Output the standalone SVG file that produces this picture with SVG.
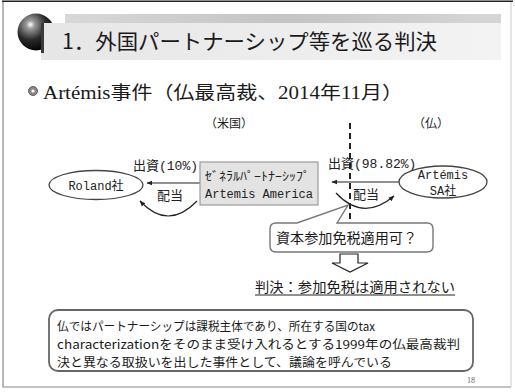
<svg xmlns="http://www.w3.org/2000/svg" width="515" height="392" viewBox="0 0 515 392">
<defs>
<radialGradient id="sph" cx="0.35" cy="0.3" r="0.75">
<stop offset="0" stop-color="#ffffff"/>
<stop offset="0.15" stop-color="#9a9a9a"/>
<stop offset="0.55" stop-color="#2a2a2a"/>
<stop offset="1" stop-color="#000000"/>
</radialGradient>
<linearGradient id="band" x1="0" y1="0" x2="1" y2="0">
<stop offset="0" stop-color="#d8d8d8"/>
<stop offset="0.5" stop-color="#c4c4c4"/>
<stop offset="1" stop-color="#d6d6d6"/>
</linearGradient>
<linearGradient id="panel" x1="0" y1="0" x2="1" y2="0">
<stop offset="0" stop-color="#e6e6e6"/>
<stop offset="1" stop-color="#f3f3f3"/>
</linearGradient>
<marker id="ah" viewBox="0 0 10 10" refX="9" refY="5" markerWidth="5" markerHeight="5" orient="auto-start-reverse">
<path d="M0,1 L10,5 L0,9 z" fill="#222"/>
</marker>
<style>
.lbl{font-family:"Liberation Mono","Noto Sans CJK JP",monospace;font-size:13px;fill:#222}
.mono{font-family:"Liberation Mono","Noto Sans CJK JP",monospace;font-size:12px;fill:#222}
.jp{font-family:"Noto Sans CJK JP",sans-serif;fill:#1a1a1a}
.ell{fill:#fff;stroke:#444;stroke-width:1.3}
.ln{stroke:#222;stroke-width:1.2;fill:none}
</style>
</defs>
<rect width="515" height="392" fill="#fff"/>
<!-- frame -->
<path d="M3,1 V387 H511" fill="none" stroke="#888" stroke-width="1.2"/>
<line x1="511" y1="1" x2="511" y2="387" stroke="#ccc" stroke-width="1"/>
<line x1="2" y1="1.2" x2="513" y2="1.2" stroke="#222" stroke-width="1.6"/>

<!-- title -->
<g id="title">
<rect x="65" y="14" width="436" height="9" fill="url(#band)"/>
<circle cx="36" cy="32" r="18.5" fill="url(#sph)"/>
<rect x="41" y="23" width="460" height="37" fill="url(#panel)"/>
<rect x="41" y="23" width="3" height="30" fill="#3a3a3a"/>
<text x="62" y="49" class="jp" font-size="21" textLength="375" lengthAdjust="spacingAndGlyphs">1．外国パートナーシップ等を巡る判決</text>
</g>

<g id="subtitle">
<circle cx="33" cy="91" r="4.5" fill="#8a8a8a" stroke="#444" stroke-width="0.8"/>
<circle cx="33" cy="91" r="1.6" fill="#fff"/>
<text x="43" y="99" font-family="'Liberation Serif','Noto Sans CJK JP',serif" font-size="18" fill="#1a1a1a" textLength="360" lengthAdjust="spacingAndGlyphs">Artémis事件（仏最高裁、2014年11月）</text>
</g>

<text x="205" y="128" class="mono">（米国）</text>
<text x="413" y="128" class="mono">（仏）</text>

<g id="connectors">
<line x1="350" y1="123" x2="350" y2="223" stroke="#222" stroke-width="2" stroke-dasharray="6,4"/>
<line x1="200" y1="183" x2="147" y2="183" class="ln" marker-end="url(#ah)"/>
<line x1="400" y1="182" x2="332" y2="182" class="ln" marker-end="url(#ah)"/>
<path d="M140,201 Q168,231 197,201" class="ln" marker-start="url(#ah)"/>
<path d="M336,193 Q363,222 394,196" class="ln" marker-end="url(#ah)"/>
</g>

<text x="133" y="170" class="lbl">出資(10%)</text>
<text x="157" y="200" class="lbl">配当</text>
<text x="328" y="168" class="lbl">出資(98.82%)</text>
<text x="353" y="199" class="lbl">配当</text>

<g id="roland">
<ellipse cx="96" cy="185" rx="47" ry="14.5" class="ell"/>
<text x="96" y="190" class="mono" text-anchor="middle">Roland社</text>
</g>

<g id="artemis-america">
<rect x="200" y="162" width="118" height="43" fill="#e3e3e3" stroke="#999" stroke-width="1.2"/>
<text x="205" y="181" class="mono" textLength="105" lengthAdjust="spacingAndGlyphs">ｾﾞﾈﾗﾙﾊﾟｰﾄﾅｰｼｯﾌﾟ</text>
<text x="205" y="198" class="mono" textLength="108" lengthAdjust="spacingAndGlyphs">Artemis America</text>
</g>

<g id="artemis-sa">
<ellipse cx="443" cy="182" rx="44" ry="16" class="ell"/>
<text x="443" y="179" class="mono" text-anchor="middle">Artémis</text>
<text x="443" y="195" class="mono" text-anchor="middle">SA社</text>
</g>

<g id="callout">
<path d="M276,223 H297 L348,205 L337,223 H427 Q433,223 433,229 V246 Q433,252 427,252 H276 Q270,252 270,246 V229 Q270,223 276,223 Z" fill="#fff" stroke="#777" stroke-width="1.4"/>
<text x="276" y="243" class="jp" font-size="14" textLength="141" lengthAdjust="spacingAndGlyphs">資本参加免税適用可？</text>
</g>

<g id="down-arrow">
<path d="M340,254 H358 V263 H368 L350,272 L332,263 H340 Z" fill="#fff" stroke="#222" stroke-width="1.2"/>
</g>

<g id="judgement">
<text x="255" y="292" class="jp" font-size="13.5" textLength="200" lengthAdjust="spacingAndGlyphs">判決：参加免税は適用されない</text>
<line x1="255" y1="295" x2="455" y2="295" stroke="#222" stroke-width="1"/>
</g>

<g id="note">
<rect x="49" y="310" width="424" height="61" rx="9" fill="#fff" stroke="#666" stroke-width="1.8"/>
<text x="57" y="331" class="jp" font-size="12" textLength="318" lengthAdjust="spacingAndGlyphs">仏ではパートナーシップは課税主体であり、所在する国のtax</text>
<text x="57" y="349" class="jp" font-size="12" textLength="403" lengthAdjust="spacingAndGlyphs">characterizationをそのまま受け入れるとする1999年の仏最高裁判</text>
<text x="57" y="367" class="jp" font-size="12" textLength="335" lengthAdjust="spacingAndGlyphs">決と異なる取扱いを出した事件として、議論を呼んでいる</text>
</g>

<text x="467" y="383" font-family="'Liberation Serif',serif" font-size="8" fill="#666">18</text>
</svg>
